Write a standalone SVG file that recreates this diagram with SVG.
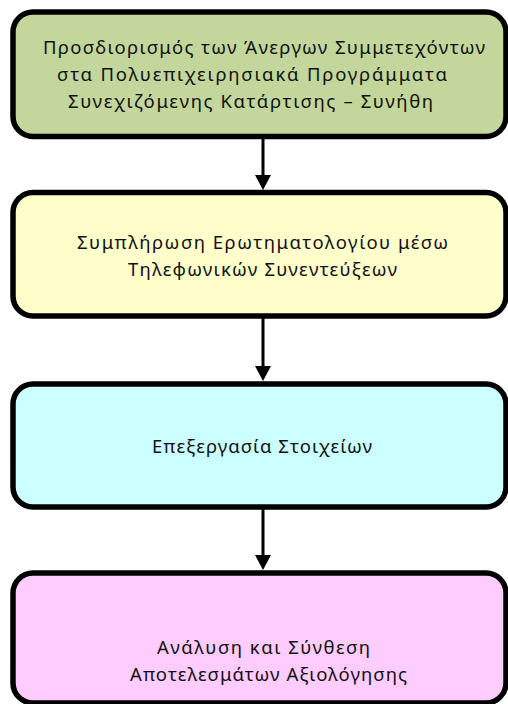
<svg xmlns="http://www.w3.org/2000/svg" width="508" height="704" viewBox="0 0 508 704">
<style>
.box{stroke:#000;stroke-width:5.5}
.t{font-family:"Noto Sans","Open Sans","DejaVu Sans",sans-serif;font-size:18.5px;fill:#111}
.c{stroke:#000;stroke-width:3;fill:none}
</style>
<defs>
<marker id="ah" markerUnits="userSpaceOnUse" markerWidth="16" markerHeight="16" refX="3" refY="8" orient="auto">
<path d="M0,0 L15,8 L0,16 z" fill="#000"/>
</marker>
</defs>
<rect width="508" height="704" fill="#fff"/>
<g id="connectors">
<line class="c" x1="263" y1="136" x2="263" y2="178" marker-end="url(#ah)"/>
<line class="c" x1="263" y1="316" x2="263" y2="369" marker-end="url(#ah)"/>
<line class="c" x1="263" y1="507" x2="263" y2="558" marker-end="url(#ah)"/>
</g>
<g id="node1">
<rect class="box" x="13" y="12" width="493" height="124.5" rx="20" fill="#C3D69B"/>
<text class="t" x="43" y="54" textLength="442" lengthAdjust="spacing">Προσδιορισμός των Άνεργων Συμμετεχόντων</text>
<text class="t" x="57" y="81" textLength="390" lengthAdjust="spacing">στα Πολυεπιχειρησιακά  Προγράμματα</text>
<text class="t" x="68" y="108" textLength="365" lengthAdjust="spacing">Συνεχιζόμενης Κατάρτισης – Συνήθη</text>
</g>
<g id="node2">
<rect class="box" x="13" y="192.5" width="493" height="123.5" rx="20" fill="#FFFFCC"/>
<text class="t" x="77" y="249" textLength="371" lengthAdjust="spacing">Συμπλήρωση Ερωτηματολογίου μέσω</text>
<text class="t" x="128" y="276" textLength="269" lengthAdjust="spacing">Τηλεφωνικών  Συνεντεύξεων</text>
</g>
<g id="node3">
<rect class="box" x="13" y="384" width="493" height="123" rx="20" fill="#CCFFFF"/>
<text class="t" x="152" y="453" textLength="220" lengthAdjust="spacing">Επεξεργασία Στοιχείων</text>
</g>
<g id="node4">
<rect class="box" x="13" y="573" width="493" height="130" rx="20" fill="#FFCCFF"/>
<text class="t" x="157" y="654" textLength="213" lengthAdjust="spacing">Ανάλυση και Σύνθεση</text>
<text class="t" x="130" y="681" textLength="277" lengthAdjust="spacing">Αποτελεσμάτων Αξιολόγησης</text>
</g>
</svg>
